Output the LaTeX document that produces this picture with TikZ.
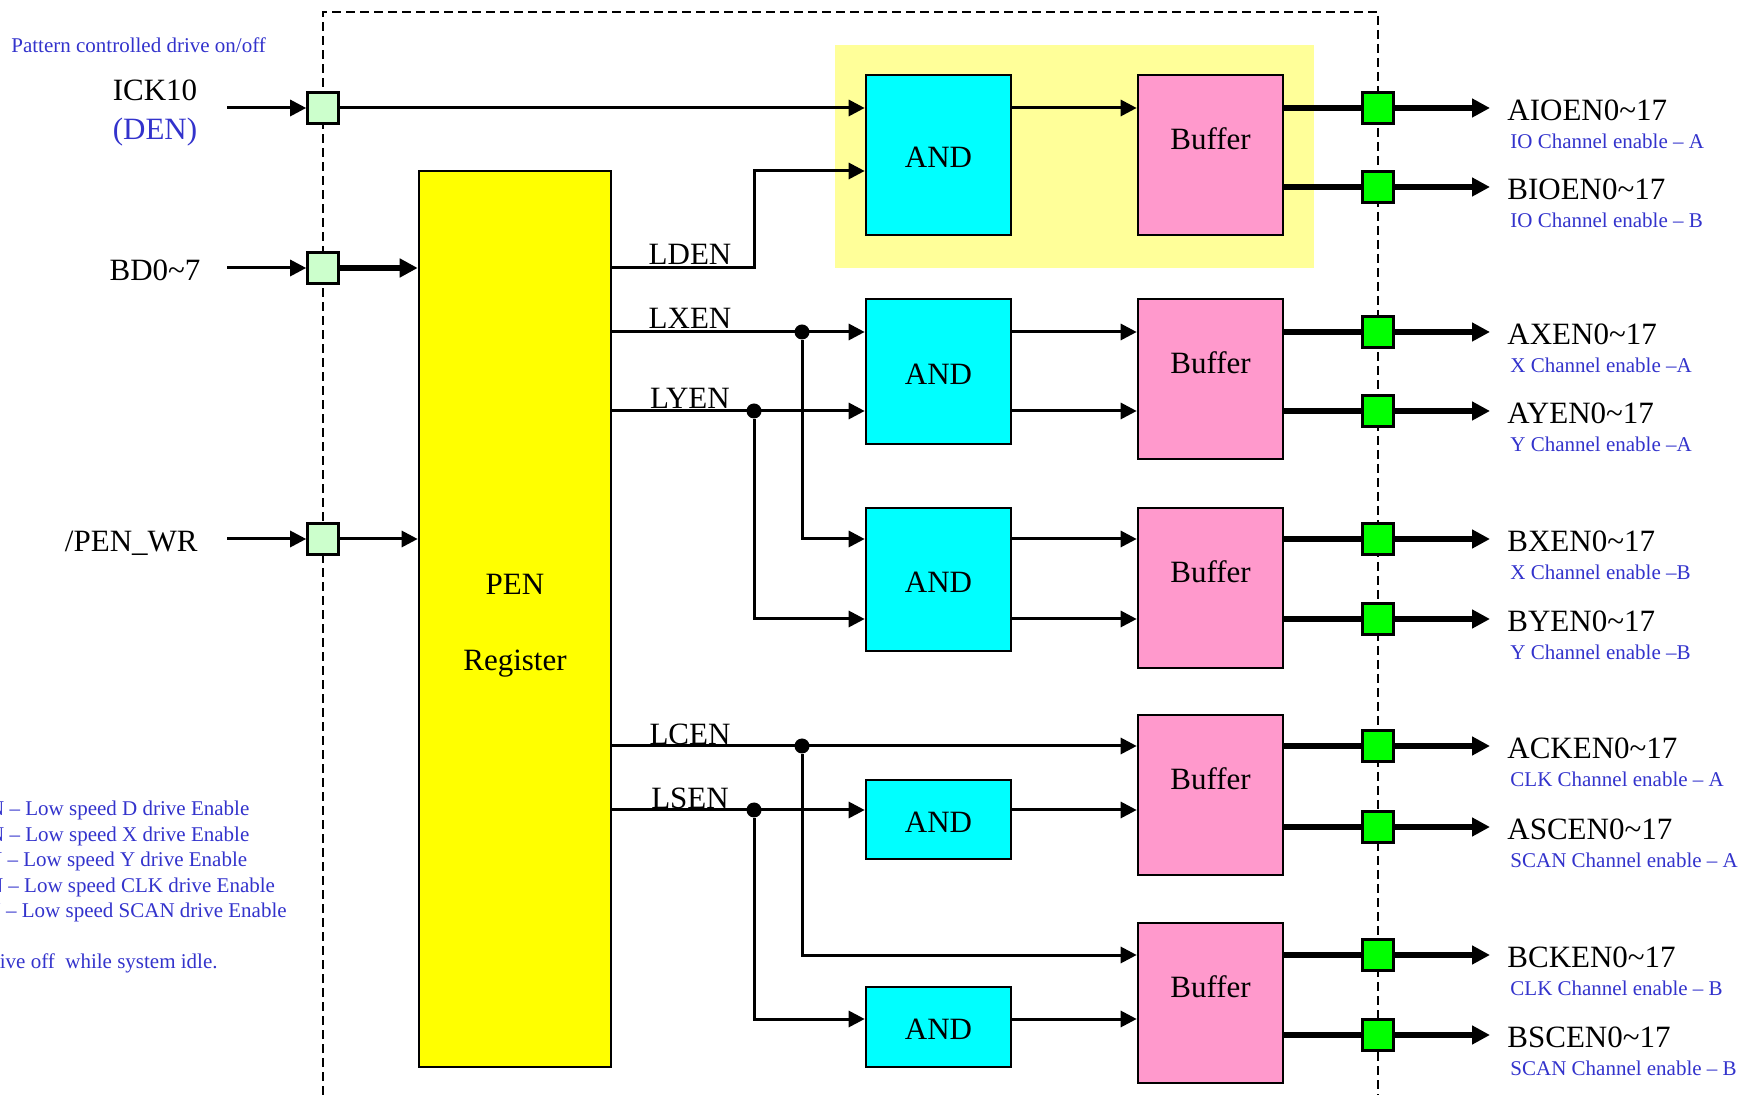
\documentclass[tikz,border=0pt]{standalone}
\usepackage{fontspec}
\setmainfont{Liberation Serif}
\usetikzlibrary{arrows.meta,positioning,calc}
\definecolor{andcyan}{RGB}{0,255,255}
\definecolor{bufpink}{RGB}{255,153,204}
\definecolor{regyellow}{RGB}{255,255,0}
\definecolor{hilite}{RGB}{255,255,153}
\definecolor{padlight}{RGB}{204,255,204}
\definecolor{padgreen}{RGB}{0,255,0}
\definecolor{noteblue}{RGB}{51,51,204}
\newcommand{\rng}{0\textasciitilde17}
\newcommand{\buftxt}{\raisebox{8pt}[\height][\depth]{Buffer}}

\begin{document}
\begin{tikzpicture}[x=0.5pt,y=-0.5pt,
  box/.style={draw, line width=1.3pt, inner sep=0pt, minimum width=72.5pt, font=\fontsize{15.5}{18}\selectfont},
  andbox/.style={box, fill=andcyan, text height=12.8pt, text depth=0pt},
  bufbox/.style={box, fill=bufpink, minimum height=80pt},
  pad/.style={draw, line width=1.3pt, minimum size=15.5pt, inner sep=0pt},
  inpad/.style={pad, fill=padlight},
  outpad/.style={pad, fill=padgreen},
  dot/.style={circle, fill, inner sep=0pt, minimum size=7.5pt},
  wire/.style={line width=1.5pt},
  arr/.style={wire, -{Triangle[length=8pt,width=8pt]}},
  bus/.style={line width=3pt},
  busarr/.style={bus, -{Triangle[length=9pt,width=9pt]}},
  sig/.style={font=\fontsize{15.5}{18}\selectfont, inner sep=0pt},
  note/.style={font=\fontsize{10.5}{12}\selectfont, text=noteblue, inner sep=0pt},
  border/.style={line width=1.2pt, dash pattern=on 4.5pt off 2.5pt}
]
\path[use as bounding box, clip] (0,0) rectangle (1757,1095);

% highlight and chip border
\fill[hilite] (835,45) rectangle (1314,268);
\draw[border] (323,1095) -- (323,12) -- (1378,12) -- (1378,1095);

% inputs
\coordinate (in1) at (227,108);
\coordinate (in2) at (227,268);
\coordinate (in3) at (227,539);
\node[inpad] (pin1) at (323,108) {};
\node[inpad] (pin2) at (323,268) {};
\node[inpad] (pin3) at (323,539) {};
\node[sig] (ick) at (155,90) {ICK10};
\node[sig, text=noteblue] (den) at (155,132) {(DEN)};
\node[sig] (bd) at (155,270) {BD0\textasciitilde7};
\node[sig, anchor=east] (wr) at (198,543) {/PEN\_WR};

% blocks
\node[draw, line width=1.3pt, fill=regyellow, minimum width=96pt, minimum height=448pt,
  label={[sig, align=center, yshift=-3.5pt]center:PEN\\[20pt]Register}] (pen) at (515,619) {};
\node[andbox, minimum height=80pt] (and1) at (938.5,155) {AND};
\node[andbox, minimum height=72.5pt] (and2) at (938.5,371.5) {AND};
\node[andbox, minimum height=71.5pt] (and3) at (938.5,579.5) {AND};
\node[andbox, minimum height=39.5pt] (and4) at (938.5,819.5) {AND};
\node[andbox, minimum height=40pt] (and5) at (938.5,1027) {AND};
\node[bufbox] (buf1) at (1210.5,155) {\buftxt};
\node[bufbox] (buf2) at (1210.5,379) {\buftxt};
\node[bufbox] (buf3) at (1210.5,588) {\buftxt};
\node[bufbox] (buf4) at (1210.5,795) {\buftxt};
\node[bufbox] (buf5) at (1210.5,1003) {\buftxt};

% output pads
\foreach \i/\y in {1/108,2/187,3/332,4/411,5/539,6/619,7/746,8/827,9/955,10/1035}{
  \node[outpad] (p\i) at (1378,\y) {};
  \coordinate (t\i) at (1490,\y);
}

% input wires
\draw[arr] (in1) -- (pin1.west);
\draw[arr] (in2) -- (pin2.west);
\draw[arr] (in3) -- (pin3.west);
\draw[arr] (pin1.east) -- (and1.west |- pin1);
\draw[busarr] (pin2.east) -- (pen.west |- pin2);
\draw[arr] (pin3.east) -- (pen.west |- pin3);

% register outputs
\coordinate (ld) at (754,268);
\node[dot] (jx) at (802,332) {};
\node[dot] (jy) at (754,411) {};
\node[dot] (jc) at (802,746) {};
\node[dot] (js) at (754,810) {};
\draw[arr] (pen.east |- ld) -- (ld) |- ($(and1.west)+(0,16)$);
\draw[arr] (pen.east |- jx) -- (and2.west |- jx);
\draw[arr] (jx) |- ($(and3.west)+(0,-40.5)$);
\draw[arr] (pen.east |- jy) -- (and2.west |- jy);
\draw[arr] (jy) |- ($(and3.west)+(0,39.5)$);
\draw[arr] (pen.east |- jc) -- (buf4.west |- jc);
\draw[arr] (jc) |- (buf5.west |- p9);
\draw[arr] (pen.east |- js) -- (and4.west |- js);
\draw[arr] (js) |- ($(and5.west)+(0,-8)$);
\node[sig] at (690,254) {LDEN};
\node[sig] at (690,318) {LXEN};
\node[sig] at (690,398) {LYEN};
\node[sig] at (690,734) {LCEN};
\node[sig] at (690,798) {LSEN};

% gates to buffers
\draw[arr] (and1.east |- p1) -- (buf1.west |- p1);
\draw[arr] (and2.east |- p3) -- (buf2.west |- p3);
\draw[arr] (and2.east |- p4) -- (buf2.west |- p4);
\draw[arr] (and3.east |- p5) -- (buf3.west |- p5);
\draw[arr] (and3.east |- p6) -- (buf3.west |- p6);
\draw[arr] (and4.east |- js) -- (buf4.west |- js);
\draw[arr] ($(and5.east)+(0,-8)$) -- ($(buf5.west)+(0,16)$);

% outputs
\foreach \i/\b in {1/1,2/1,3/2,4/2,5/3,6/3,7/4,8/4,9/5,10/5}{
  \draw[bus] (buf\b.east |- p\i) -- (p\i.west);
  \draw[busarr] (p\i.east) -- (t\i);
}
\foreach \i/\name/\sub in {1/AIOEN/IO Channel enable -- A, 2/BIOEN/IO Channel enable -- B,
  3/AXEN/X Channel enable --A, 4/AYEN/Y Channel enable --A,
  5/BXEN/X Channel enable --B, 6/BYEN/Y Channel enable --B,
  7/ACKEN/CLK Channel enable -- A, 8/ASCEN/SCAN Channel enable -- A,
  9/BCKEN/CLK Channel enable -- B, 10/BSCEN/SCAN Channel enable -- B}{
  \node[sig, anchor=west] (o\i) at ($(t\i)+(17,2)$) {\name\rng};
  \node[note, anchor=west] (s\i) at ($(t\i)+(20,33)$) {\sub};
}

% notes
\node[note, anchor=west] (head) at (11,45) {Pattern controlled drive on/off};
\foreach \y/\txt in {810/LDEN -- Low speed D drive Enable, 836/LXEN -- Low speed X drive Enable,
  861/LYEN -- Low speed Y drive Enable, 887/LCEN -- Low speed CLK drive Enable,
  912/LSEN -- Low speed SCAN drive Enable}{
  \node[note, anchor=west] at (-52,\y) {\txt};
}
\node[note, anchor=west] (idle) at (-18,963) {drive off~~while system idle.};
\end{tikzpicture}
\end{document}
